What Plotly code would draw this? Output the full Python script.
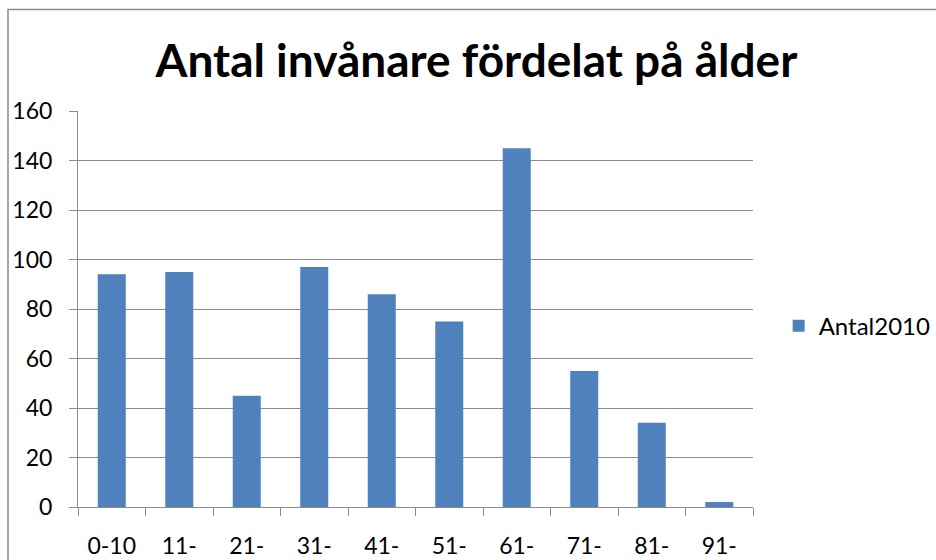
import plotly.graph_objects as go

categories = ["0-10", "11-", "21-", "31-", "41-", "51-", "61-", "71-", "81-", "91-"]
antal2010 = [94, 95, 45, 97, 86, 75, 145, 55, 34, 2]
y_ticks = [0, 20, 40, 60, 80, 100, 120, 140, 160]

FONT = "Lato"
GRID = "#8c8c8c"

fig = go.Figure()
fig.add_trace(go.Bar(
    x=categories, y=antal2010, name="Antal2010",
    marker=dict(color="#4F81BD", line=dict(width=0)),
))

fig.update_layout(
    width=936, height=560,
    margin=dict(l=78, r=183, t=111, b=53, autoexpand=False),
    paper_bgcolor="white", plot_bgcolor="white",
    font=dict(family=FONT, size=23, color="black"),
    bargap=0.585,
    title=dict(text="<b>Antal invånare fördelat på ålder</b>",
               font=dict(family=FONT, size=46, color="black"),
               x=0.509, xanchor="center", xref="container",
               y=1 - 61 / 560, yanchor="middle", yref="container"),
    showlegend=True,
    legend=dict(x=1.038, y=0.457, xanchor="left", yanchor="middle",
                font=dict(family=FONT, size=24, color="black"),
                bgcolor="rgba(0,0,0,0)"),
    xaxis=dict(showline=True, linecolor=GRID, linewidth=1,
               ticks="outside", ticklen=8, tickcolor=GRID,
               tickson="boundaries", showgrid=False, automargin=False,
               ticklabelstandoff=18, tickfont=dict(size=23)),
    yaxis=dict(range=[0, 160], tickvals=y_ticks, showline=True,
               linecolor=GRID, linewidth=1, ticks="outside", ticklen=8,
               tickcolor=GRID, showgrid=True, gridcolor=GRID, gridwidth=1,
               zeroline=False, ticklabelstandoff=12, automargin=False,
               tickfont=dict(size=23)),
    shapes=[dict(type="rect", xref="paper", yref="paper",
                 x0=(8 - 78) / 675, x1=(945 - 78) / 675,
                 y0=(507 - 570) / 396, y1=(507 - 9.5) / 396,
                 line=dict(color="#8c8c8c", width=1.5),
                 fillcolor="rgba(0,0,0,0)", layer="below")],
)

fig.write_html("out.html", config={"displayModeBar": False},
               post_script="document.body.style.margin='0';document.body.style.overflow='hidden';")
